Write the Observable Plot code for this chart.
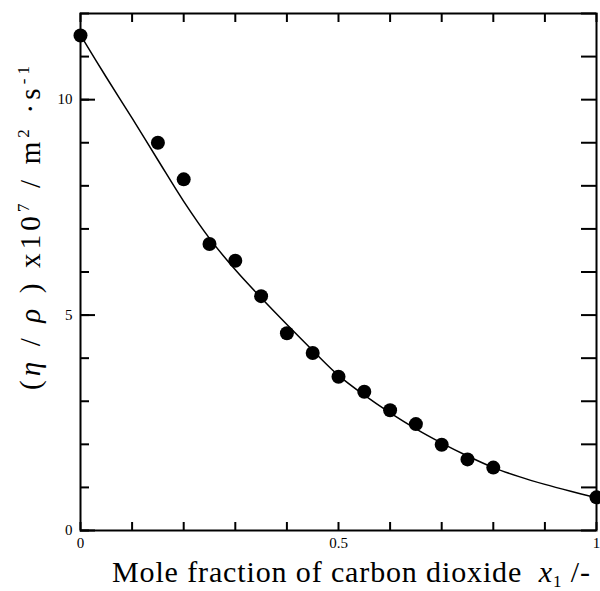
<!DOCTYPE html>
<html><head><meta charset="utf-8">
<script src="https://cdn.jsdelivr.net/npm/d3@7"></script>
<script src="https://cdn.jsdelivr.net/npm/@observablehq/plot@0.6"></script>
<style>body{margin:0;background:#fff;} svg text{white-space:pre;}</style>
</head><body><div id="chart"></div>
<script>
// Measured kinematic viscosity (eta/rho) x10^7 vs mole fraction of CO2
const obsX = [0, 0.15, 0.20, 0.25, 0.30, 0.35, 0.40, 0.45, 0.50, 0.55, 0.60, 0.65, 0.70, 0.75, 0.80, 1.00];
const obsY = [11.49, 9.00, 8.15, 6.65, 6.26, 5.44, 4.58, 4.12, 3.57, 3.22, 2.79, 2.47, 1.99, 1.65, 1.46, 0.77];
// Smooth correlation curve
const fitX = [0, 0.05, 0.10, 0.15, 0.20, 0.25, 0.30, 0.35, 0.40, 0.45, 0.50, 0.55, 0.60, 0.65, 0.70, 0.75, 0.80, 0.85, 0.90, 0.95, 1.00];
const fitY = [11.5, 10.52, 9.57, 8.60, 7.64, 6.78, 6.05, 5.40, 4.78, 4.18, 3.60, 3.14, 2.73, 2.36, 2.03, 1.73, 1.46, 1.25, 1.07, 0.91, 0.76];
// Axis ticks and labels
const xTicks = [0, 0.1, 0.2, 0.3, 0.4, 0.5, 0.6, 0.7, 0.8, 0.9, 1];
const yTicks = [0, 1, 2, 3, 4, 5, 6, 7, 8, 9, 10, 11, 12];
const yMajorTicks = [0, 5, 10];
const xTickLabels = [0, 0.5, 1];
const yTickLabels = [0, 5, 10];

const obs = obsX.map((x, i) => ({x, y: obsY[i]}));
const fit = fitX.map((x, i) => ({x, y: fitY[i]}));

const W = 600, H = 591, mL = 80, mR = 4, mT = 13, mB = 61;
const innerW = W - mL - mR, innerH = H - mT - mB;

const plot = Plot.plot({
  width: W, height: H,
  marginLeft: mL, marginRight: mR, marginTop: mT, marginBottom: mB,
  style: {fontFamily: "'Liberation Serif', 'Times New Roman', serif", fontSize: "15px", background: "#fff", color: "#000"},
  x: {domain: [0, 1]},
  y: {domain: [0, 12]},
  marks: [
    // inward tick marks on all four sides
    Plot.tickX(xTicks, {x: d => d, insetTop: innerH - 8, stroke: "#000", strokeWidth: 2}),
    Plot.tickX(xTicks, {x: d => d, insetBottom: innerH - 9, stroke: "#000", strokeWidth: 2}),
    Plot.tickY(yTicks, {y: d => d, insetRight: innerW - 9, stroke: "#000", strokeWidth: 2}),
    Plot.tickY(yMajorTicks, {y: d => d, insetRight: innerW - 15, stroke: "#000", strokeWidth: 2}),
    Plot.tickY(yTicks, {y: d => d, insetLeft: innerW - 15, stroke: "#000", strokeWidth: 2}),
    Plot.axisX(xTickLabels, {anchor: "bottom", tickSize: 0, tickPadding: 7, label: null, tickFormat: d => String(d), fontSize: 15}),
    Plot.axisY(yTickLabels, {anchor: "left", tickSize: 0, tickPadding: 8, label: null, tickFormat: d => String(d), fontSize: 15}),
    Plot.frame({stroke: "#000", strokeWidth: 2}),
    Plot.line(fit, {x: "x", y: "y", curve: "catmull-rom", stroke: "#000", strokeWidth: 1.5}),
    Plot.dot(obs, {x: "x", y: "y", r: 7, fill: "#000", stroke: "none"})
  ]
});
document.getElementById("chart").appendChild(plot);

const svg = d3.select(plot);
const ff = "'Liberation Serif', 'Times New Roman', serif";
// x-axis title
const xt = svg.append("text")
  .attr("x", 351).attr("y", 582).attr("text-anchor", "middle")
  .attr("textLength", 478).attr("lengthAdjust", "spacing")
  .attr("font-family", ff).attr("font-size", 30).attr("fill", "#000");
xt.append("tspan").text("Mole fraction of carbon dioxide  ");
xt.append("tspan").attr("font-style", "italic").text("x");
xt.append("tspan").attr("font-size", 17).attr("dy", 5).text("1");
xt.append("tspan").attr("dy", -5).text(" /-");
// y-axis title
const yt = svg.append("text")
  .attr("transform", "translate(40,228) rotate(-90)").attr("text-anchor", "middle")
  .attr("textLength", 324).attr("lengthAdjust", "spacing")
  .attr("font-family", ff).attr("font-size", 29).attr("fill", "#000");
yt.append("tspan").text("(");
yt.append("tspan").attr("font-style", "italic").text("η");
yt.append("tspan").text(" / ");
yt.append("tspan").attr("font-style", "italic").text("ρ");
yt.append("tspan").text(" ) x10");
yt.append("tspan").attr("font-size", 17).attr("dy", -11).text("7");
yt.append("tspan").attr("dy", 11).text(" / m");
yt.append("tspan").attr("font-size", 17).attr("dy", -11).text("2");
yt.append("tspan").attr("dy", 11).text(" ·s");
yt.append("tspan").attr("font-size", 17).attr("dy", -11).text("-1");
</script>
</body></html>
